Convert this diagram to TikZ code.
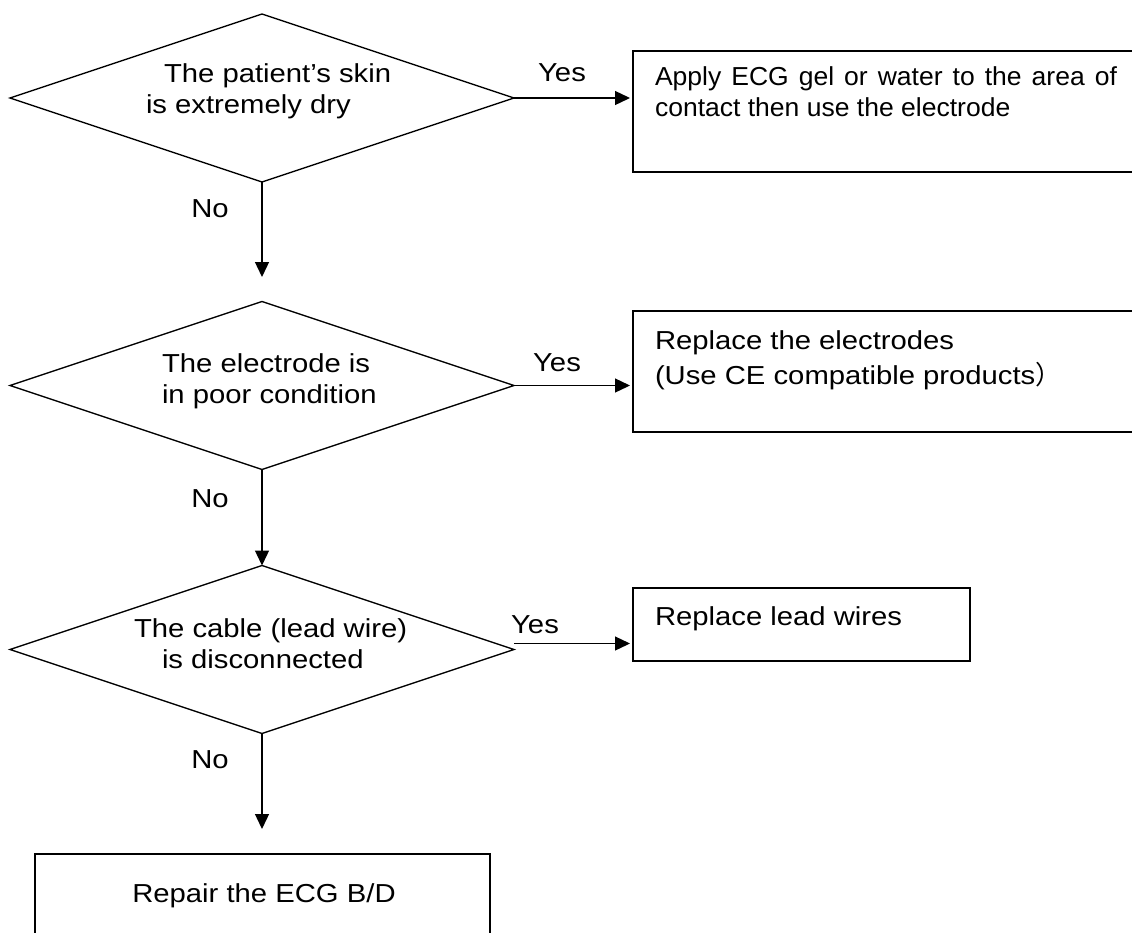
\documentclass[tikz,border=0pt]{standalone}
\usepackage{fontspec}
\setmainfont{Liberation Sans}[FakeStretch=1.125]
\newfontfamily\boxonefont{Liberation Sans}[FakeStretch=1.02]
\newfontfamily\cjkfont{Noto Sans CJK SC}
\usetikzlibrary{shapes.geometric,arrows.meta}
\tikzset{
  every node/.style={font=\fontsize{26}{31}\selectfont, inner sep=0pt, outer sep=0pt},
  decision/.style={draw, shape=diamond, line width=1.3pt, minimum width=504pt, minimum height=168pt},
  actbox/.style={draw, rectangle, line width=1.5pt, anchor=north west},
  txt/.style={align=left, anchor=west},
  lbl/.style={anchor=base},
  flow/.style={line width=1.3pt, -{Triangle[length=15pt,width=14pt]}},
}
\begin{document}
\begin{tikzpicture}[x=1pt,y=-1pt]
\useasboundingbox[fill=white] (0,0) rectangle (1132,932);

% decisions
\node[decision] (d1) at (262,98) {};
\node[decision] (d2) at (262,385.5) {};
\node[decision] (d3) at (262,649.5) {};
\node[txt] (t1) at (146,91) {\hspace*{18pt}The patient’s skin\\is extremely dry};
\node[txt] (t2) at (162,381) {The electrode is\\in poor condition};
\node[txt] (t3) at (134,643.5) {The cable (lead wire)\\\hspace*{28pt}is disconnected};

% action boxes
\node[actbox, minimum width=520pt, minimum height=121pt] (b1) at (633,51) {};
\node[actbox, minimum width=520pt, minimum height=121pt] (b2) at (633,311) {};
\node[actbox, minimum width=337pt, minimum height=73pt] (b3) at (633,588) {};
\node[actbox, minimum width=455pt, minimum height=120pt] (b4) at (35,854) {};
\node[anchor=north west, text width=462pt, align=justify, font=\boxonefont\fontsize{26}{31}\selectfont] (tb1) at (655,67)
  {Apply ECG gel or water to the area of\linebreak contact then use the electrode};
\node[anchor=north west, align=left] (tb2) at (655,331)
  {Replace the electrodes\\[4pt](Use CE compatible products{\cjkfont ）}};
\node[anchor=base west] (tb3) at (655,625.5) {Replace lead wires};
\node[anchor=base] (tb4) at (264,902) {Repair the ECG B/D};

% free arrow ends
\coordinate (e1) at (262,277);
\coordinate (e3) at (262,829);

% connectors
\draw[flow, shorten >=3pt] (d1.east) -- (d1.east -| b1.west);
\draw[flow, shorten >=3pt] (d2.east) -- (d2.east -| b2.west);
\draw[flow, shorten >=3pt] ([yshift=6pt]d3.east) -- ([yshift=6pt]d3.east -| b3.west);
\draw[flow] (d1.south) -- (e1);
\draw[flow] (d2.south) -- (d3.north);
\draw[flow] (d3.south) -- (e3);

% labels
\node[lbl] (y1) at (562,81) {Yes};
\node[lbl] (y2) at (557,371) {Yes};
\node[lbl] (y3) at (535,633) {Yes};
\node[lbl] (n1) at (210,217) {No};
\node[lbl] (n2) at (210,507) {No};
\node[lbl] (n3) at (210,768) {No};
\end{tikzpicture}
\end{document}
